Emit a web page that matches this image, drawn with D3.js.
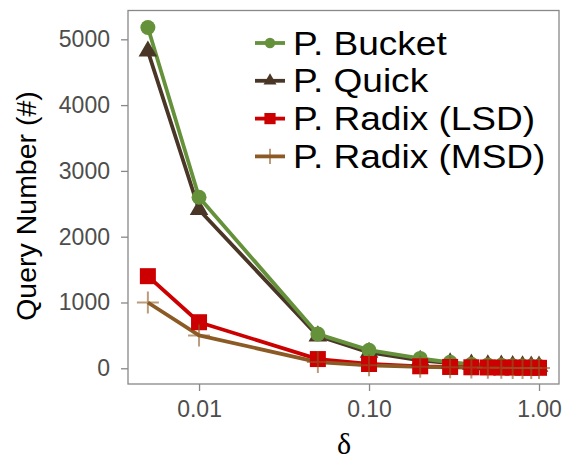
<!DOCTYPE html>
<html>
<head>
<meta charset="utf-8">
<script src="https://cdn.jsdelivr.net/npm/d3@7"></script>
<style>
  body { margin: 0; background: #ffffff; }
  svg { display: block; }
</style>
</head>
<body>
<div id="graf"></div>
<script>
// Query Number vs delta

deltas  = [0.005, 0.01, 0.05, 0.1, 0.2, 0.3, 0.4, 0.5, 0.6, 0.7, 0.8, 0.9, 1.0]
bucket  = [5180, 2600, 520, 275, 150, 90, 60, 50, 45, 40, 35, 32, 30]
quick   = [4820, 2410, 490, 240, 120, 80, 60, 50, 45, 40, 35, 32, 30]
lsd     = [1400, 700, 140, 65, 30, 20, 15, 12, 10, 10, 8, 8, 7]
msd     = [1000, 500, 95, 45, 22, 15, 10, 8, 7, 6, 5, 5, 4]
nombres = ['P. Bucket', 'P. Quick', 'P. Radix (LSD)', 'P. Radix (MSD)']
xTicks  = [0.01, 0.1, 1]
yTicks  = [0, 1000, 2000, 3000, 4000, 5000]

ancho_total = 565
alto_total  = 457
panel = { left: 128, right: 559, top: 10.5, bottom: 384 }

series = [
  { nombre: nombres[1], valores: quick,  color: '#4a3626', forma: 'tri' },
  { nombre: nombres[0], valores: bucket, color: '#64913a', forma: 'circ' },
  { nombre: nombres[2], valores: lsd,    color: '#cc0000', forma: 'sq' },
  { nombre: nombres[3], valores: msd,    color: '#8c5a24', forma: 'plus' }
]
leyenda = [series[1], series[0], series[2], series[3]]

svg = d3.select('#graf').append('svg')
        .attr('width', ancho_total)
        .attr('height', alto_total)

// Escaladores
x = d3.scaleLog().domain([0.00382, 1.311]).range([panel.left, panel.right])
y = d3.scaleLinear().domain([-239, 5438]).range([panel.bottom, panel.top])

// Ejes
xAxis = d3.axisBottom(x)
          .tickValues(xTicks)
          .tickFormat(d3.format('.2f'))
          .tickSize(7)
          .tickPadding(10)
yAxis = d3.axisLeft(y)
          .tickValues(yTicks)
          .tickFormat(d3.format('d'))
          .tickSize(7)
          .tickPadding(11)

gx = svg.append('g')
  .attr('transform', `translate(0,${panel.bottom})`)
  .call(xAxis)
gy = svg.append('g')
  .attr('transform', `translate(${panel.left},0)`)
  .call(yAxis)

;[gx, gy].forEach(g => {
  g.select('.domain').remove()
  g.selectAll('line').attr('stroke', '#888888').attr('stroke-width', 1.3)
  g.selectAll('text')
    .attr('fill', '#4d4d4d')
    .attr('font-family', 'Liberation Sans, Arial, sans-serif')
    .attr('font-size', '23px')
})

svg.append('rect')
  .attr('x', panel.left)
  .attr('y', panel.top)
  .attr('width', panel.right - panel.left)
  .attr('height', panel.bottom - panel.top)
  .attr('fill', 'none')
  .attr('stroke', '#888888')
  .attr('stroke-width', 1.3)

// Titulos
svg.append('text')
  .attr('transform', `translate(36, 206) rotate(-90)`)
  .attr('text-anchor', 'middle')
  .attr('font-family', 'Liberation Sans, Arial, sans-serif')
  .attr('font-size', '28.5px')
  .attr('fill', '#000000')
  .text('Query Number (#)')

svg.append('text')
  .attr('x', 344)
  .attr('y', 454)
  .attr('text-anchor', 'middle')
  .attr('font-family', 'Liberation Serif, DejaVu Serif, serif')
  .attr('font-size', '30px')
  .attr('fill', '#000000')
  .text('δ')

// Marcadores
function marcador(sel, forma, color, s) {
  if (forma == 'circ') {
    sel.append('circle').attr('r', 7.5 * s).attr('fill', color)
  } else if (forma == 'tri') {
    sel.append('path')
      .attr('d', d3.symbol(d3.symbolTriangle, 150 * s * s)())
      .attr('fill', color)
  } else if (forma == 'sq') {
    sel.append('rect')
      .attr('x', -8 * s).attr('y', -8 * s)
      .attr('width', 16 * s).attr('height', 16 * s)
      .attr('fill', color)
  } else {
    sel.append('path')
      .attr('d', `M${-11 * s},0H${11 * s}M0,${-11 * s}V${11 * s}`)
      .attr('stroke', color)
      .attr('stroke-opacity', 0.6)
      .attr('stroke-width', 2)
      .attr('fill', 'none')
  }
}

linea = d3.line()
  .x((d, i) => x(deltas[i]))
  .y(d => y(d))

series.forEach(s => {
  svg.append('path')
    .datum(s.valores)
    .attr('d', linea)
    .attr('fill', 'none')
    .attr('stroke', s.color)
    .attr('stroke-width', 3.8)
    .attr('stroke-linejoin', 'round')
})

series.forEach(s => {
  s.valores.forEach((v, i) => {
    g = svg.append('g')
      .attr('transform', `translate(${x(deltas[i])},${y(v)})`)
    marcador(g, s.forma, s.color, 1)
  })
})

// Leyenda
leyenda.forEach((s, i) => {
  yy = 43 + i * 37.8
  svg.append('line')
    .attr('x1', 255).attr('x2', 285)
    .attr('y1', yy).attr('y2', yy)
    .attr('stroke', s.color)
    .attr('stroke-width', 3.8)
  g = svg.append('g').attr('transform', `translate(270,${yy})`)
  marcador(g, s.forma, s.color, 0.7)
  svg.append('text')
    .attr('transform', `translate(293,${yy + 11.5}) scale(1.14,1)`)
    .attr('font-family', 'Liberation Sans, Arial, sans-serif')
    .attr('font-size', '32.5px')
    .attr('fill', '#000000')
    .text(s.nombre)
})
</script>
</body>
</html>
